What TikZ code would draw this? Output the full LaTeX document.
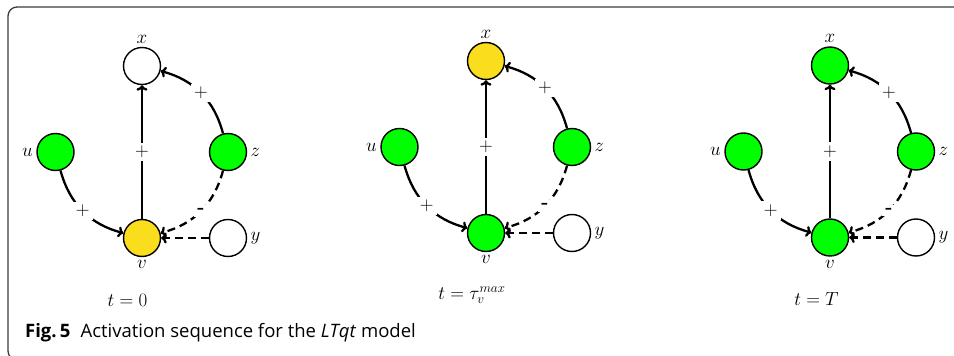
\RequirePackage{fix-cm}
\documentclass[tikz,border=0pt]{standalone}
\usepackage{fontspec}
\usetikzlibrary{arrows.meta}
\newfontfamily\capfont{Open Sans}
\definecolor{ngreen}{RGB}{0,255,0}
\definecolor{nyellow}{RGB}{250,222,30}
\definecolor{framegray}{RGB}{60,60,60}
\tikzset{
  nd/.style={circle, draw, line width=1.4pt, minimum size=37pt, inner sep=0pt},
  edg/.style={-{Computer Modern Rightarrow[length=5.5pt,width=11pt]}, line width=2.3pt},
  dsh/.style={dash pattern=on 8pt off 5pt},
  lbl/.style={fill=white},
}
\newcommand\drawpanel[8]{%
  \node[nd, fill=#4, label={above:$x$}] (#1x) at ({#2},{#3-172}) {};
  \node[nd, fill=ngreen, label={left:$u$}] (#1u) at ({#2-86.5},{#3-86}) {};
  \node[nd, fill=ngreen, label={right:$z$}] (#1z) at ({#2+86},{#3-86}) {};
  \node[nd, fill=#5, label={below:$v$}] (#1v) at ({#2},{#3}) {};
  \node[nd, fill=white, label={right:$y$}] (#1y) at ({#2+86},{#3}) {};
  \draw[edg] (#1v) -- node[lbl]{$+$} (#1x);
  \draw[edg] (#1u) to[bend right] node[lbl]{$+$} (#1v);
  \draw[edg] (#1z) to[bend right] node[lbl]{$+$} (#1x);
  \draw[edg,dsh] (#1z) to[bend left] node[lbl]{\textbf{-}} (#1v);
  \draw[edg,dsh] (#1y) -- (#1v);
  \node[anchor=base, inner sep=1pt] (#1t) at ({#6},{#7}) {#8};
}
\begin{document}
\begin{tikzpicture}[x=1pt,y=-1pt,font=\fontsize{19}{23}\selectfont]
  \useasboundingbox (0,0) rectangle (954,356);
  \draw[framegray, line width=1.3pt, rounded corners=9pt] (960,7) -- (8,7) -- (8,360) -- (960,360);
  \drawpanel{a}{142}{238}{white}{nyellow}{127.5}{306}{$t=0$}
  \drawpanel{b}{486}{233}{nyellow}{ngreen}{472}{299}{$t=\tau_v^{max}$}
  \drawpanel{c}{830}{237.5}{ngreen}{ngreen}{816.5}{305}{$t=T$}
  \node[anchor=base west, inner sep=0pt, font=\capfont\fontsize{18.5}{22}\selectfont] (cap) at (25,337)
    {\textbf{Fig.\,5}\hspace{0.55em}Activation sequence for the \textit{LTqt} model};
\end{tikzpicture}
\end{document}
